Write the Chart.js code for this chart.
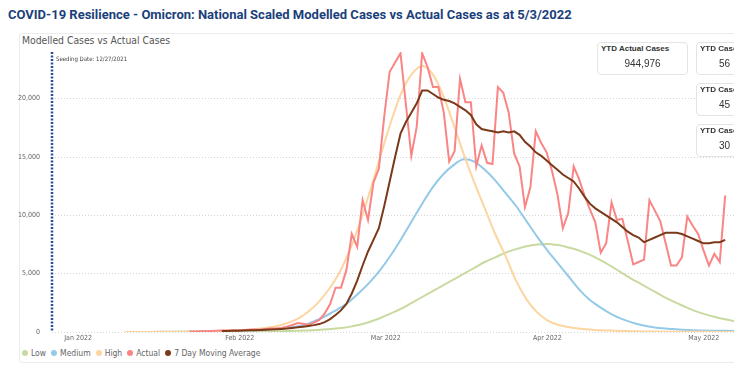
<!DOCTYPE html>
<html>
<head>
<meta charset="utf-8">
<script src="https://cdn.jsdelivr.net/npm/chart.js@4.4.1/dist/chart.umd.min.js"></script>
<style>
  html, body { margin: 0; padding: 0; background: #fff; }
  body {
    width: 734px; height: 368px; overflow: hidden; position: relative;
    font-family: 'Liberation Sans Narrow', 'DejaVu Sans Condensed', 'Roboto', sans-serif;
  }
  #title {
    position: absolute; left: 8px; top: 7px; white-space: nowrap;
    font: bold 13px 'Roboto', 'Noto Sans', sans-serif; color: #1b3f7b;
  }
  #panel {
    position: absolute; left: 19px; top: 33px; width: 800px; height: 328px;
    border: 1px solid #ececec; border-radius: 3px;
  }
  #subtitle { position: absolute; left: 22px; top: 34px; font-size: 10.3px; color: #555; }
  #wrap { position: absolute; left: 12px; top: 44px; width: 770px; height: 302px; }
  .kpi {
    position: absolute; width: 89px; height: 31px; background: #fff;
    border: 1px solid #e4e4e4; border-radius: 4px; overflow: hidden;
  }
  .kpi .lbl {
    position: absolute; left: 3px; top: 1px; white-space: nowrap;
    font: bold 8px 'Liberation Sans', 'Roboto', sans-serif; color: #333;
  }
  .kpi .val {
    position: absolute; left: 0; right: 0; top: 15px; text-align: center; white-space: nowrap;
    font: 10px 'Liberation Sans', 'Roboto', sans-serif; color: #333;
  }
  #legend {
    position: absolute; left: 22px; top: 348px; display: flex; align-items: center;
    font-size: 8.5px; color: #666; white-space: nowrap;
  }
  #legend span.item { display: flex; align-items: center; margin-right: 5px; }
  #legend i { display: inline-block; width: 6px; height: 6px; border-radius: 50%; margin-right: 3px; }
</style>
</head>
<body>
<div id="title">COVID-19 Resilience - Omicron: National Scaled Modelled Cases vs Actual Cases as at 5/3/2022</div>
<div id="panel"></div>
<div id="subtitle">Modelled Cases vs Actual Cases</div>
<div id="wrap"><canvas id="chart"></canvas></div>
<div class="kpi" style="left:597px;top:42px"><div class="lbl">YTD Actual Cases</div><div class="val">944,976</div></div>
<div class="kpi" style="left:696px;top:42px"><div class="lbl">YTD Cases</div><div class="val" style="text-align:left;left:22px">56</div></div>
<div class="kpi" style="left:696px;top:83px"><div class="lbl">YTD Cases</div><div class="val" style="text-align:left;left:22px">45</div></div>
<div class="kpi" style="left:696px;top:124px"><div class="lbl">YTD Cases</div><div class="val" style="text-align:left;left:22px">30</div></div>
<div id="legend"></div>

<script>
// days are counted from 1 Jan 2022
const monthTicks = [0, 31, 59, 90, 120];
const monthLabels = ['Jan 2022', 'Feb 2022', 'Mar 2022', 'Apr 2022', 'May 2022'];
const caseTicks = [0, 5000, 10000, 15000, 20000];
const seedingDay = -5;
const seedingLabel = 'Seeding Date: 12/27/2021';

const seriesNames = ['Low', 'Medium', 'High', 'Actual', '7 Day Moving Average'];
const seriesColors = ['#c8da9f', '#94cae8', '#fdd5a0', '#f98585', '#7a3a1a'];

const modelDays = [9, 14, 19, 24, 28, 32, 35, 38, 40, 42, 44, 46, 48, 50, 52, 54, 56, 58, 60, 62,
  64, 66, 68, 70, 72, 74, 76, 78, 80, 82, 84, 86, 88, 90, 92, 94, 96, 98, 100, 102,
  104, 106, 108, 110, 112, 114, 116, 118, 120, 122, 124, 126, 130, 135];

const lowCases = [0, 5, 10, 20, 30, 40, 50, 70, 80, 100, 130, 170, 230, 320, 440, 620, 880, 1200, 1600, 2000,
  2500, 3000, 3500, 4000, 4500, 5000, 5500, 6000, 6400, 6800, 7100, 7350, 7500, 7550, 7450, 7250, 7000, 6650, 6200, 5700,
  5150, 4600, 4100, 3600, 3100, 2650, 2250, 1850, 1550, 1300, 1100, 920, 650, 420];

const mediumCases = [0, 10, 20, 40, 70, 120, 180, 270, 350, 470, 700, 1050, 1500, 2000, 2600, 3400, 4300, 5350, 6600, 8000,
  9500, 11000, 12400, 13500, 14300, 14800, 14600, 13900, 13000, 11900, 10800, 9500, 8200, 7000, 5900, 4800, 3700, 2800, 2150, 1600,
  1170, 850, 600, 430, 320, 250, 190, 150, 120, 110, 100, 90, 70, 50];

const highCases = [0, 10, 20, 50, 100, 180, 300, 500, 750, 1100, 1700, 2500, 3600, 5000, 6900, 9300, 12100, 15100, 18000, 20500,
  22100, 22800, 22100, 20300, 17800, 15200, 12800, 10600, 8400, 6500, 4400, 2800, 1700, 1000, 620, 420, 300, 220, 160, 120,
  90, 70, 50, 40, 30, 30, 20, 20, 20, 10, 10, 10, 10, 10];

// daily actual cases, 24 Jan - 3 May
const firstActualDay = 23;
const actualCases = [50, 50, 60, 70, 80, 100, 120, 120, 150, 160,
  180, 200, 220, 200, 250, 300, 300, 340, 450, 600,
  770, 700, 600, 800, 1030, 1600, 2400, 3800, 3800, 5300,
  8400, 7300, 11300, 9600, 12800, 14000, 18500, 22300, 23100, 23900,
  19500, 15100, 17600, 23900, 22700, 21000, 21000, 18800, 14600, 15500,
  21700, 19700, 19700, 14200, 16000, 14500, 14400, 21000, 20500, 18800,
  15300, 14200, 10700, 12400, 17200, 16200, 15400, 13800, 11800, 8900,
  10200, 14200, 13100, 11700, 10500, 9400, 6800, 7600, 11100, 9600,
  9700, 7800, 5800, 6000, 6200, 11300, 10400, 9500, 7600, 5700,
  5700, 6400, 9900, 9100, 8400, 7000, 5700, 6700, 6000, 11700];

// 7 day moving average, 30 Jan - 3 May
const firstAverageDay = 29;
const movingAverage = [80, 90, 100, 115, 130, 145, 160, 175, 195, 215,
  235, 260, 290, 340, 400, 460, 520, 590, 680, 850,
  1100, 1450, 1850, 2400, 3300, 4400, 5700, 6900, 7900, 8900,
  10800, 12900, 15000, 17000, 18000, 18800, 19600, 20700, 20700, 20400,
  20100, 19900, 19800, 19600, 19300, 19000, 18600, 17800, 17400, 17300,
  17200, 17100, 17200, 17100, 17200, 16900, 16300, 15900, 15400, 15100,
  14700, 14300, 13900, 13500, 13200, 12900, 12300, 11600, 11000, 10600,
  10300, 10000, 9700, 9400, 9000, 8600, 8300, 8100, 7700, 7900,
  8100, 8300, 8500, 8500, 8500, 8400, 8200, 8000, 7800, 7600,
  7600, 7700, 7700, 7900];

const SMALL_FONT = "'Liberation Sans Narrow', 'DejaVu Sans Condensed', 'Roboto', sans-serif";

const pairs = (days, values) => values.map((v, i) => ({ x: days[i], y: v }));
const daily = (start, values) => values.map((v, i) => ({ x: start + i, y: v }));

function modelSet(idx, values, order) {
  return {
    label: seriesNames[idx], data: pairs(modelDays, values), xAxisID: 'x',
    borderColor: seriesColors[idx], backgroundColor: seriesColors[idx],
    borderWidth: 2, pointRadius: 0, tension: 0.4, cubicInterpolationMode: 'monotone', order
  };
}

const seedingLine = {
  id: 'seedingLine',
  afterDatasetsDraw(chart) {
    const { ctx, chartArea } = chart;
    const x = chart.scales.x.getPixelForValue(seedingDay);
    ctx.save();
    ctx.strokeStyle = '#2d4d9c';
    ctx.lineWidth = 2.5;
    ctx.setLineDash([2, 1.5]);
    ctx.beginPath();
    ctx.moveTo(x, chartArea.top);
    ctx.lineTo(x, chartArea.bottom);
    ctx.stroke();
    ctx.fillStyle = '#444';
    ctx.font = '6px ' + SMALL_FONT;
    ctx.textBaseline = 'middle';
    ctx.fillText(seedingLabel, x + 4, chartArea.top + 7);
    ctx.restore();
  }
};

new Chart(document.getElementById('chart'), {
  type: 'line',
  data: {
    datasets: [
      modelSet(0, lowCases, 4),
      modelSet(1, mediumCases, 3),
      modelSet(2, highCases, 2),
      {
        label: seriesNames[3], data: daily(firstActualDay, actualCases), xAxisID: 'xd',
        borderColor: seriesColors[3], backgroundColor: seriesColors[3],
        borderWidth: 2, pointRadius: 0, tension: 0, order: 1
      },
      {
        label: seriesNames[4], data: daily(firstAverageDay, movingAverage), xAxisID: 'xd',
        borderColor: seriesColors[4], backgroundColor: seriesColors[4],
        borderWidth: 2, pointRadius: 0, tension: 0, order: 0
      }
    ]
  },
  options: {
    responsive: true,
    maintainAspectRatio: false,
    animation: false,
    devicePixelRatio: 1,
    layout: { padding: { top: 8, left: 0, right: 0, bottom: 0 } },
    scales: {
      x: {
        type: 'linear', min: -5, max: 135,
        grid: { display: false, drawTicks: false },
        border: { display: false },
        afterBuildTicks: axis => { axis.ticks = monthTicks.map(v => ({ value: v })); },
        afterFit: axis => { axis.height = 14; axis.paddingLeft = 0; axis.paddingRight = 0; },
        ticks: {
          autoSkip: false, maxRotation: 0, padding: 2,
          color: '#666', font: { size: 7, family: SMALL_FONT },
          callback: v => monthLabels[monthTicks.indexOf(v)]
        }
      },
      // the actual series runs slightly wider per day than the month axis in the source
      xd: { type: 'linear', min: -2.4, max: 132.5, display: false },
      y: {
        type: 'linear', min: 0, max: 24000, bounds: 'data',
        afterBuildTicks: axis => { axis.ticks = caseTicks.map(v => ({ value: v })); },
        afterFit: axis => { axis.width = 40; axis.paddingTop = 4; axis.paddingBottom = 4; },
        grid: { color: '#d6d6d6', drawTicks: false },
        border: { display: false, dash: [1, 2] },
        ticks: {
          autoSkip: false, padding: 12,
          color: '#666', font: { size: 7, family: SMALL_FONT },
          callback: v => v.toLocaleString('en-US')
        }
      }
    },
    plugins: {
      legend: { display: false },
      tooltip: { enabled: false }
    }
  },
  plugins: [seedingLine]
});

const legend = document.getElementById('legend');
seriesNames.forEach((name, i) => {
  const item = document.createElement('span');
  item.className = 'item';
  item.innerHTML = '<i style="background:' + seriesColors[i] + '"></i>' + name;
  legend.appendChild(item);
});
</script>
</body>
</html>
